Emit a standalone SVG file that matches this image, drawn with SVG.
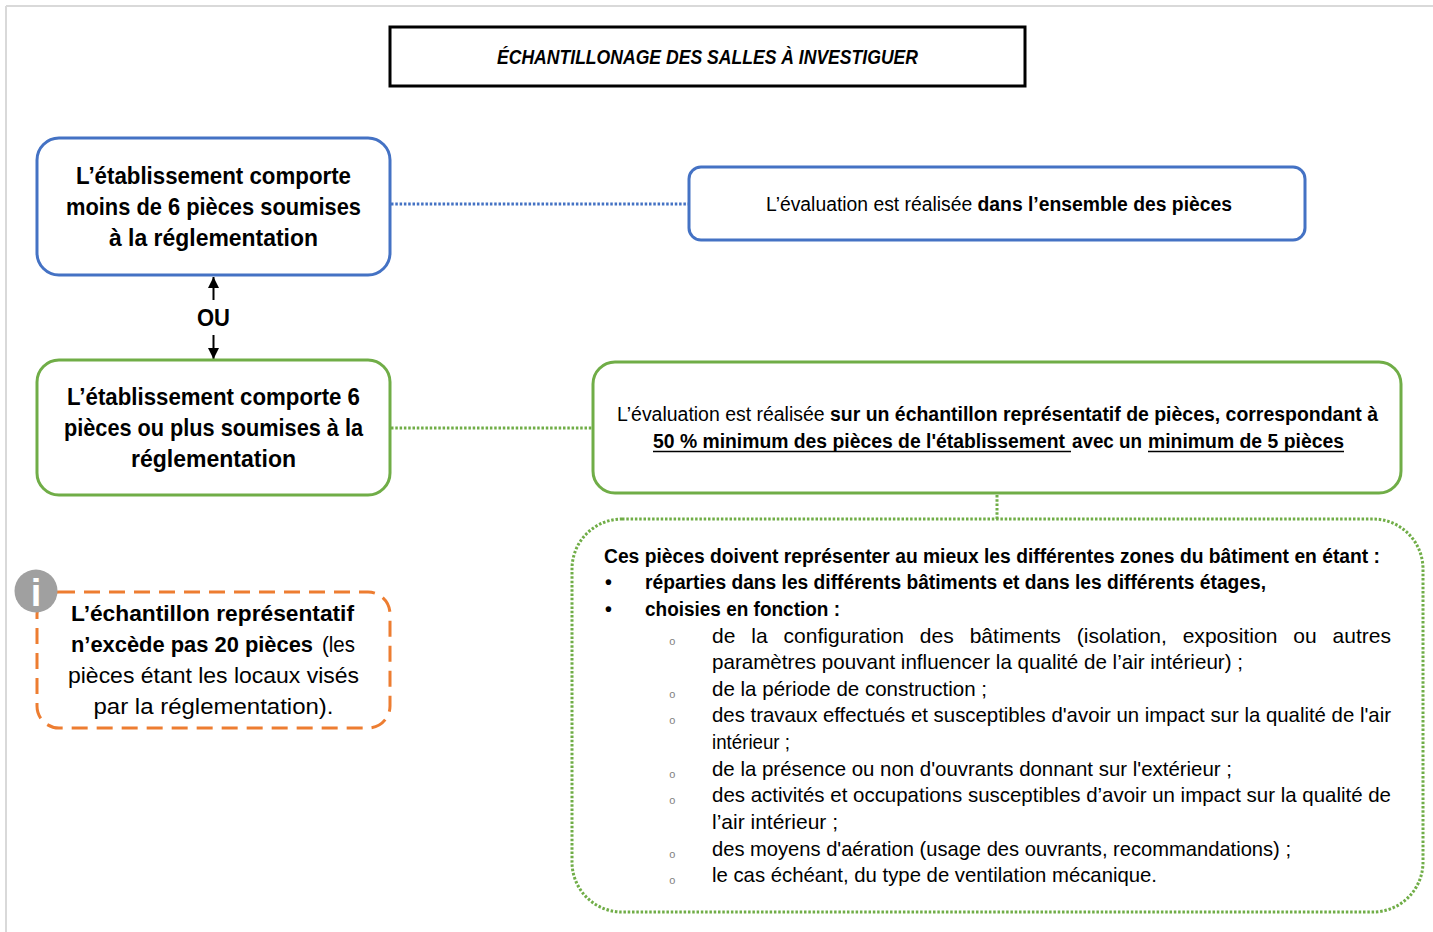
<svg xmlns="http://www.w3.org/2000/svg" width="1433" height="932" viewBox="0 0 1433 932">
<style>
text{font-family:"Liberation Sans",Arial,sans-serif;fill:#000}
.b{font-weight:bold}
.box{font-size:24px;font-weight:bold}
.org{font-size:22px}
.mid{font-size:20px}
.body{font-size:21px}
.bodyb{font-size:19.5px;font-weight:bold}
.sub{font-family:"Liberation Mono","Courier New",monospace;font-size:11px;fill:#7f7f7f}
.blue{fill:#fff;stroke:#4472c4;stroke-width:3}
.green{fill:#fff;stroke:#70ad47;stroke-width:3}
.dotb{fill:none;stroke:#4472c4;stroke-width:3;stroke-dasharray:2.5 1.8}
.dotg{fill:none;stroke:#70ad47;stroke-width:3;stroke-dasharray:2.5 1.8}
.ul{stroke:#000;stroke-width:1.5}
</style>
<defs>
<marker id="ah" markerUnits="userSpaceOnUse" markerWidth="11" markerHeight="11" refX="11" refY="5.5" orient="auto">
<path d="M0,0 L11,5.5 L0,11 z" fill="#000"/>
</marker>
</defs>
<rect width="1433" height="932" fill="#fff"/>
<g id="frame">
<line x1="6" y1="6" x2="1433" y2="6" stroke="#d9d9d9" stroke-width="2"/>
<line x1="6" y1="6" x2="6" y2="932" stroke="#d9d9d9" stroke-width="2"/>
</g>

<g id="connectors">
<line class="dotb" x1="391" y1="204" x2="688" y2="204"/>
<line class="dotg" x1="391" y1="428" x2="592" y2="428"/>
<line class="dotg" x1="997" y1="495" x2="997" y2="519"/>
<line x1="213.5" y1="300" x2="213.5" y2="277" stroke="#000" stroke-width="2" marker-end="url(#ah)"/>
<line x1="213.5" y1="335" x2="213.5" y2="359" stroke="#000" stroke-width="2" marker-end="url(#ah)"/>
<text class="b" x="213.5" y="326" font-size="23" text-anchor="middle" textLength="33" lengthAdjust="spacingAndGlyphs">OU</text>
</g>

<g id="title">
<rect x="390" y="27" width="635" height="59" fill="#fff" stroke="#000" stroke-width="3"/>
<text x="707.5" y="64" font-size="20.5" font-weight="bold" font-style="italic" text-anchor="middle" textLength="421" lengthAdjust="spacingAndGlyphs">ÉCHANTILLONAGE DES SALLES À INVESTIGUER</text>
</g>

<g id="node-moins6">
<rect class="blue" x="37" y="138" width="353" height="137" rx="22"/>
<text class="box" x="213.5" y="184" text-anchor="middle" textLength="275" lengthAdjust="spacingAndGlyphs">L’établissement comporte</text>
<text class="box" x="213.5" y="215" text-anchor="middle" textLength="295" lengthAdjust="spacingAndGlyphs">moins de 6 pièces soumises</text>
<text class="box" x="213.5" y="246" text-anchor="middle" textLength="209" lengthAdjust="spacingAndGlyphs">à la réglementation</text>
</g>

<g id="node-ensemble">
<rect class="blue" x="689" y="167" width="616" height="73" rx="12"/>
<text class="mid" x="766" y="211" textLength="466" lengthAdjust="spacingAndGlyphs">L’évaluation est réalisée <tspan class="b">dans l’ensemble des pièces</tspan></text>
</g>

<g id="node-plus6">
<rect class="green" x="37" y="360" width="353" height="135" rx="22"/>
<text class="box" x="213.5" y="405" text-anchor="middle" textLength="293" lengthAdjust="spacingAndGlyphs">L’établissement comporte 6</text>
<text class="box" x="213.5" y="436" text-anchor="middle" textLength="299" lengthAdjust="spacingAndGlyphs">pièces ou plus soumises à la</text>
<text class="box" x="213.5" y="467" text-anchor="middle" textLength="165" lengthAdjust="spacingAndGlyphs">réglementation</text>
</g>

<g id="node-echantillon">
<rect class="green" x="593" y="362" width="808" height="131" rx="22"/>
<text class="mid" x="617" y="421" textLength="761" lengthAdjust="spacingAndGlyphs">L’évaluation est réalisée <tspan class="b">sur un échantillon représentatif de pièces, correspondant à</tspan></text>
<text class="b" font-size="19.5" x="653" y="448" textLength="412" lengthAdjust="spacingAndGlyphs">50 % minimum des pièces de l'établissement</text>
<line class="ul" x1="653" y1="451.5" x2="1071" y2="451.5"/>
<text class="b" font-size="19.5" x="1072" y="448" textLength="70" lengthAdjust="spacingAndGlyphs">avec un</text>
<text class="b" font-size="19.5" x="1148" y="448" textLength="196" lengthAdjust="spacingAndGlyphs">minimum de 5 pièces</text>
<line class="ul" x1="1148" y1="451.5" x2="1344" y2="451.5"/>
</g>

<g id="node-criteres">
<rect class="dotg" x="572" y="519" width="851" height="393" rx="50"/>
<text class="bodyb" x="604" y="563" textLength="776" lengthAdjust="spacingAndGlyphs">Ces pièces doivent représenter au mieux les différentes zones du bâtiment en étant :</text>
<text class="bodyb" x="605" y="589">•</text>
<text class="bodyb" x="645" y="589" textLength="621" lengthAdjust="spacingAndGlyphs">réparties dans les différents bâtiments et dans les différents étages,</text>
<text class="bodyb" x="605" y="616">•</text>
<text class="bodyb" x="645" y="616" textLength="195" lengthAdjust="spacingAndGlyphs">choisies en fonction :</text>
<text class="sub" x="669" y="645">o</text>
<text class="body" x="712" y="643" word-spacing="10" textLength="679" lengthAdjust="spacing">de la configuration des bâtiments (isolation, exposition ou autres</text>
<text class="body" x="712" y="669" textLength="531" lengthAdjust="spacingAndGlyphs">paramètres pouvant influencer la qualité de l’air intérieur) ;</text>
<text class="sub" x="669" y="698">o</text>
<text class="body" x="712" y="696" textLength="275" lengthAdjust="spacingAndGlyphs">de la période de construction ;</text>
<text class="sub" x="669" y="724">o</text>
<text class="body" x="712" y="722" textLength="679" lengthAdjust="spacingAndGlyphs">des travaux effectués et susceptibles d'avoir un impact sur la qualité de l'air</text>
<text class="body" x="712" y="749" textLength="78" lengthAdjust="spacingAndGlyphs">intérieur ;</text>
<text class="sub" x="669" y="778">o</text>
<text class="body" x="712" y="776" textLength="520" lengthAdjust="spacingAndGlyphs">de la présence ou non d'ouvrants donnant sur l'extérieur ;</text>
<text class="sub" x="669" y="804">o</text>
<text class="body" x="712" y="802" textLength="679" lengthAdjust="spacingAndGlyphs">des activités et occupations susceptibles d’avoir un impact sur la qualité de</text>
<text class="body" x="712" y="829" textLength="126" lengthAdjust="spacingAndGlyphs">l’air intérieur ;</text>
<text class="sub" x="669" y="858">o</text>
<text class="body" x="712" y="856" textLength="579" lengthAdjust="spacingAndGlyphs">des moyens d'aération (usage des ouvrants, recommandations) ;</text>
<text class="sub" x="669" y="884">o</text>
<text class="body" x="712" y="882" textLength="445" lengthAdjust="spacingAndGlyphs">le cas échéant, du type de ventilation mécanique.</text>
</g>

<g id="node-info">
<rect x="37" y="592" width="353" height="136" rx="22" fill="#fff" stroke="#ed7d31" stroke-width="3" stroke-dasharray="16 9"/>
<text class="org b" x="71" y="621" textLength="283" lengthAdjust="spacingAndGlyphs">L’échantillon représentatif</text>
<text class="org b" x="71" y="652" textLength="242" lengthAdjust="spacingAndGlyphs">n’excède pas 20 pièces</text>
<text class="org" x="322" y="652" textLength="33" lengthAdjust="spacingAndGlyphs">(les</text>
<text class="org" x="213.5" y="683" text-anchor="middle" textLength="291" lengthAdjust="spacingAndGlyphs">pièces étant les locaux visés</text>
<text class="org" x="213.5" y="714" text-anchor="middle" textLength="240" lengthAdjust="spacingAndGlyphs">par la réglementation).</text>
<circle cx="36" cy="591" r="21.5" fill="#a0a0a0"/>
<text x="36" y="606" font-family="'Liberation Serif','Times New Roman',serif" font-weight="bold" font-size="38" text-anchor="middle" style="fill:#fff">i</text>
</g>
</svg>
